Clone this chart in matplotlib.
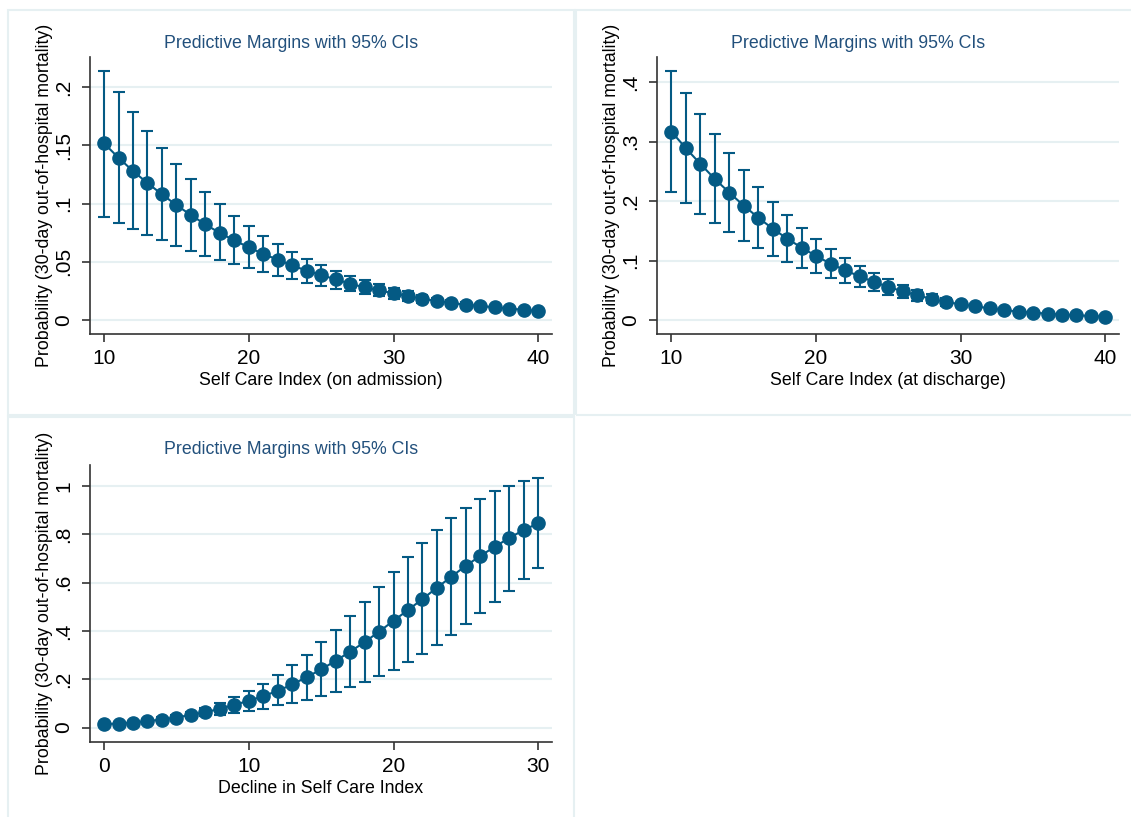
import matplotlib.pyplot as plt
from matplotlib.patches import Rectangle

plt.rcParams['font.family'] = ['Liberation Sans', 'DejaVu Sans']

# panel 1: self care index on admission
adm_x = list(range(10, 41))
adm_m = [0.1517, 0.1393, 0.1279, 0.1176, 0.1079, 0.0987, 0.0901, 0.0821, 0.0747, 0.0684,
         0.0624, 0.0567, 0.0518, 0.0469, 0.0423, 0.0386, 0.0349, 0.0312, 0.0280, 0.0255,
         0.0229, 0.0206, 0.0183, 0.0163, 0.0146, 0.0132, 0.0120, 0.0109, 0.0097, 0.0089, 0.0077]
adm_hi = [0.2137, 0.1954, 0.1783, 0.1625, 0.1479, 0.1339, 0.1210, 0.1096, 0.0993, 0.0893,
          0.0804, 0.0724, 0.0652, 0.0587, 0.0526, 0.0472, 0.0423, 0.0378, 0.0343, 0.0309,
          0.0278, 0.0246, 0.0217, 0.0190, 0.0170, 0.0152, 0.0138, 0.0124, 0.0110, 0.0100, 0.0087]
adm_lo = [0.0887, 0.0835, 0.0778, 0.0730, 0.0684, 0.0635, 0.0595, 0.0552, 0.0515, 0.0478,
          0.0449, 0.0409, 0.0378, 0.0349, 0.0320, 0.0295, 0.0269, 0.0246, 0.0223, 0.0203,
          0.0183, 0.0166, 0.0149, 0.0137, 0.0123, 0.0112, 0.0103, 0.0094, 0.0085, 0.0078, 0.0068]

# panel 2: self care index at discharge
dis_x = list(range(10, 41))
dis_m = [0.3170, 0.2889, 0.2626, 0.2373, 0.2143, 0.1924, 0.1722, 0.1537, 0.1369, 0.1217,
         0.1077, 0.0948, 0.0836, 0.0735, 0.0640, 0.0555, 0.0482, 0.0415, 0.0353, 0.0303,
         0.0264, 0.0230, 0.0196, 0.0168, 0.0140, 0.0123, 0.0107, 0.0090, 0.0079, 0.0067, 0.0056]
dis_hi = [0.4191, 0.3820, 0.3467, 0.3130, 0.2816, 0.2519, 0.2244, 0.1992, 0.1762, 0.1554,
          0.1363, 0.1200, 0.1043, 0.0914, 0.0797, 0.0696, 0.0589, 0.0511, 0.0438, 0.0370,
          0.0310, 0.0260, 0.0220, 0.0190, 0.0160, 0.0140, 0.0120, 0.0100, 0.0090, 0.0075, 0.0062]
dis_lo = [0.2154, 0.1969, 0.1790, 0.1627, 0.1475, 0.1335, 0.1206, 0.1083, 0.0976, 0.0881,
          0.0785, 0.0701, 0.0623, 0.0550, 0.0488, 0.0426, 0.0376, 0.0325, 0.0281, 0.0240,
          0.0220, 0.0200, 0.0170, 0.0150, 0.0120, 0.0110, 0.0090, 0.0080, 0.0070, 0.0060, 0.0050]

# panel 3: decline in self care index
dec_x = list(range(0, 31))
dec_m = [0.0138, 0.0166, 0.0207, 0.0263, 0.0332, 0.0415, 0.0526, 0.0636, 0.0775, 0.0941,
         0.1107, 0.1300, 0.1521, 0.1784, 0.2089, 0.2407, 0.2766, 0.3140, 0.3541, 0.3970,
         0.4426, 0.4869, 0.5325, 0.5795, 0.6252, 0.6708, 0.7109, 0.7497, 0.7856, 0.8188, 0.8465]
dec_hi = [0.0180, 0.0215, 0.0265, 0.0335, 0.0420, 0.0525, 0.0660, 0.0790, 0.0996, 0.1245,
          0.1508, 0.1812, 0.2172, 0.2573, 0.3015, 0.3527, 0.4053, 0.4606, 0.5201, 0.5823,
          0.6445, 0.7068, 0.7635, 0.8188, 0.8672, 0.9115, 0.9488, 0.9806, 1.0014, 1.0221, 1.0332]
dec_lo = [0.0100, 0.0120, 0.0150, 0.0190, 0.0240, 0.0300, 0.0390, 0.0470, 0.0526, 0.0609,
          0.0678, 0.0775, 0.0913, 0.1010, 0.1148, 0.1314, 0.1466, 0.1660, 0.1867, 0.2116,
          0.2393, 0.2711, 0.3043, 0.3416, 0.3817, 0.4274, 0.4730, 0.5187, 0.5657, 0.6141, 0.6598]

title = 'Predictive Margins with 95% CIs'
ylab = 'Probability (30-day out-of-hospital mortality)'
blue = '#045a84'
navy = '#22507c'
grid = '#e6f0f2'

W, H = 1131, 817
fig = plt.figure(figsize=(W / 100, H / 100), dpi=100)


def px_rect(l, t, r, b):
    return [l / W, 1 - b / H, (r - l) / W, (b - t) / H]


# panel frames
for l, t, r, b in [(8, 10, 574, 415), (576, 10, 1140, 415), (8, 417, 574, 830)]:
    fig.patches.append(Rectangle((l / W, 1 - b / H), (r - l) / W, (b - t) / H,
                                 transform=fig.transFigure, fill=False,
                                 edgecolor=grid, linewidth=1.5))


def panel(box, x, m, lo, hi, xlim, ylim, yticks, ylabels, xticks, xlabel, title_xy):
    ax = fig.add_axes(px_rect(*box))
    yerr = [[a - b for a, b in zip(m, lo)], [b - a for a, b in zip(m, hi)]]
    ax.errorbar(x, m, yerr=yerr, fmt='o-', color=blue, ecolor=blue, markersize=9.5,
                linewidth=1.5, elinewidth=1.5, capsize=4.5, capthick=1.5, zorder=3)
    ax.set_xlim(*xlim)
    ax.set_ylim(*ylim)
    ax.set_yticks(yticks)
    ax.set_yticklabels(ylabels, rotation=90, va='center')
    ax.set_xticks(xticks)
    ax.yaxis.grid(True, color=grid, linewidth=1.5)
    ax.set_axisbelow(True)
    for s in ['top', 'right']:
        ax.spines[s].set_visible(False)
    for s in ['left', 'bottom']:
        ax.spines[s].set_color('#333333')
        ax.spines[s].set_linewidth(1.2)
    ax.tick_params(axis='both', length=6, width=1.2, color='#333333', labelsize=15)
    ax.tick_params(axis='y', pad=6)
    ax.tick_params(axis='x', pad=5)
    ax.set_xlabel(xlabel, fontsize=12.8, labelpad=2.5)
    ax.set_ylabel(ylab, fontsize=12.8, labelpad=1)
    fig.text(title_xy[0] / W, 1 - title_xy[1] / H, title, color=navy, fontsize=12.8,
             ha='center', va='center')
    return ax


panel((90, 57, 552, 334), adm_x, adm_m, adm_lo, adm_hi, (9.03, 40.95), (-0.012, 0.2258),
      [0, 0.05, 0.1, 0.15, 0.2], ['0', '.05', '.1', '.15', '.2'], [10, 20, 30, 40],
      'Self Care Index (on admission)', (291, 43))
panel((657, 57, 1119, 334), dis_x, dis_m, dis_lo, dis_hi, (9.0, 40.94), (-0.0236, 0.4426),
      [0, 0.1, 0.2, 0.3, 0.4], ['0', '.1', '.2', '.3', '.4'], [10, 20, 30, 40],
      'Self Care Index (at discharge)', (858, 43))
panel((90, 465, 552, 742), dec_x, dec_m, dec_lo, dec_hi, (-0.97, 30.95), (-0.06, 1.088),
      [0, 0.2, 0.4, 0.6, 0.8, 1], ['0', '.2', '.4', '.6', '.8', '1'], [0, 10, 20, 30],
      'Decline in Self Care Index', (291, 450))

fig.savefig('out.png', dpi=100, facecolor='white')
